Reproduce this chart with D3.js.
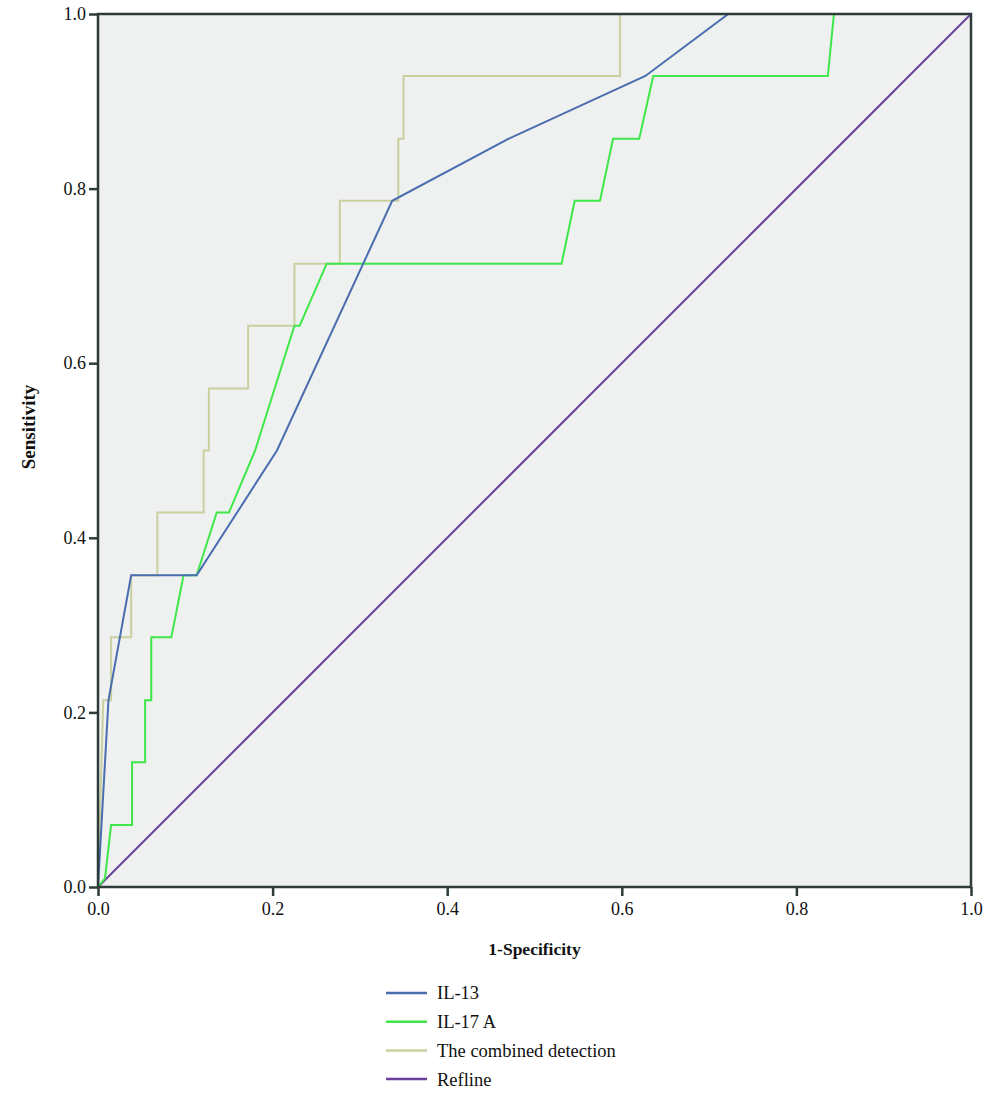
<!DOCTYPE html>
<html>
<head>
<meta charset="utf-8">
<script src="https://cdn.jsdelivr.net/npm/d3@7"></script>
<style>
  body { margin: 0; background: #fff; }
  svg text { font-family: "Liberation Serif", "DejaVu Serif", serif; fill: #111; }
</style>
</head>
<body>
<svg width="1000" height="1110"></svg>
<script>
// ROC points [1-specificity, sensitivity]
const il13 = [[0,0],[0.012,0.214],[0.038,0.357],[0.113,0.357],[0.205,0.5],[0.337,0.786],
    [0.47,0.857],[0.627,0.929],[0.722,1],[1,1]];
const il17a = [[0,0],[0.008,0.01],[0.015,0.071],[0.039,0.071],[0.039,0.143],[0.054,0.143],
    [0.054,0.214],[0.061,0.214],[0.061,0.286],[0.084,0.286],[0.098,0.357],[0.113,0.357],
    [0.136,0.429],[0.15,0.429],[0.18,0.5],[0.225,0.643],[0.231,0.643],[0.262,0.714],
    [0.531,0.714],[0.546,0.786],[0.575,0.786],[0.59,0.857],[0.62,0.857],[0.636,0.929],
    [0.836,0.929],[0.843,1],[1,1]];
const combined = [[0,0],[0.006,0.214],[0.015,0.214],[0.015,0.286],[0.038,0.286],[0.038,0.357],
    [0.068,0.357],[0.068,0.429],[0.121,0.429],[0.121,0.5],[0.127,0.5],[0.127,0.571],
    [0.172,0.571],[0.172,0.643],[0.225,0.643],[0.225,0.714],[0.277,0.714],[0.277,0.786],
    [0.344,0.786],[0.344,0.857],[0.35,0.857],[0.35,0.929],[0.598,0.929],[0.598,1],[1,1]];
const refline = [[0,0],[1,1]];

const seriesNames = ['IL-13', 'IL-17 A', 'The combined detection', 'Refline'];
const seriesColors = ['#4a6db0', '#3ee848', '#c9d0a0', '#6b3f9c'];
const ticks = [0, 0.2, 0.4, 0.6, 0.8, 1.0];

const svg = d3.select('svg');
const margin = {top: 14, right: 29, bottom: 223, left: 98};
const width = +svg.attr('width');
const height = +svg.attr('height');

const xScale = d3.scaleLinear().domain([0, 1]).range([margin.left, width - margin.right]);
const yScale = d3.scaleLinear().domain([0, 1]).range([height - margin.bottom, margin.top]);

// plot background
svg.append('rect')
    .attr('x', xScale(0)).attr('y', yScale(1))
    .attr('width', xScale(1) - xScale(0))
    .attr('height', yScale(0) - yScale(1))
    .attr('fill', '#eef1ef');

const line = d3.line().x(d => xScale(d[0])).y(d => yScale(d[1]));

const allSeries = [il13, il17a, combined, refline];
// draw order: refline, combined, green, blue
[3, 2, 1, 0].forEach(i => {
    svg.append('path')
        .datum(allSeries[i])
        .attr('d', line)
        .attr('fill', 'none')
        .attr('stroke', seriesColors[i])
        .attr('stroke-width', 2);
});

// frame
svg.append('rect')
    .attr('x', xScale(0)).attr('y', yScale(1))
    .attr('width', xScale(1) - xScale(0))
    .attr('height', yScale(0) - yScale(1))
    .attr('fill', 'none')
    .attr('stroke', '#2d3b3b')
    .attr('stroke-width', 2.5);

//-----------------------------------------X - AXIS-----------------------------------------//
const xAxis = svg.append('g')
    .attr('transform', `translate(0,${yScale(0)})`)
    .call(d3.axisBottom(xScale).tickValues(ticks).tickFormat(d3.format('.1f')).tickSize(9).tickPadding(6));
xAxis.select('.domain').remove();
xAxis.selectAll('line').attr('stroke', '#2d3b3b').attr('stroke-width', 2.5);
xAxis.selectAll('text').style('font-size', '18px').attr('fill', '#111');

svg.append('text')
    .attr('text-anchor', 'middle')
    .attr('x', xScale(0.5))
    .attr('y', 955)
    .style('font-size', '17.5px')
    .style('font-weight', 'bold')
    .text('1-Specificity');

//-----------------------------------------Y - AXIS-----------------------------------------//
const yAxis = svg.append('g')
    .attr('transform', `translate(${xScale(0)},0)`)
    .call(d3.axisLeft(yScale).tickValues(ticks).tickFormat(d3.format('.1f')).tickSize(9).tickPadding(3));
yAxis.select('.domain').remove();
yAxis.selectAll('line').attr('stroke', '#2d3b3b').attr('stroke-width', 2.5);
yAxis.selectAll('text').style('font-size', '18px').attr('fill', '#111');

svg.append('text')
    .attr('text-anchor', 'middle')
    .attr('transform', 'translate(35,427) rotate(-90)')
    .style('font-size', '19px')
    .style('font-weight', 'bold')
    .text('Sensitivity');

//-----------------------------------------LEGEND-----------------------------------------//
const legend = svg.append('g').attr('transform', 'translate(386,993)');
seriesNames.forEach((name, i) => {
    const g = legend.append('g').attr('transform', `translate(0,${i * 28.7})`);
    g.append('line')
        .attr('x1', 0).attr('x2', 41)
        .attr('stroke', seriesColors[i])
        .attr('stroke-width', 2.5);
    g.append('text')
        .attr('x', 51)
        .attr('dy', '0.35em')
        .style('font-size', '18.5px')
        .text(name);
});
</script>
</body>
</html>
